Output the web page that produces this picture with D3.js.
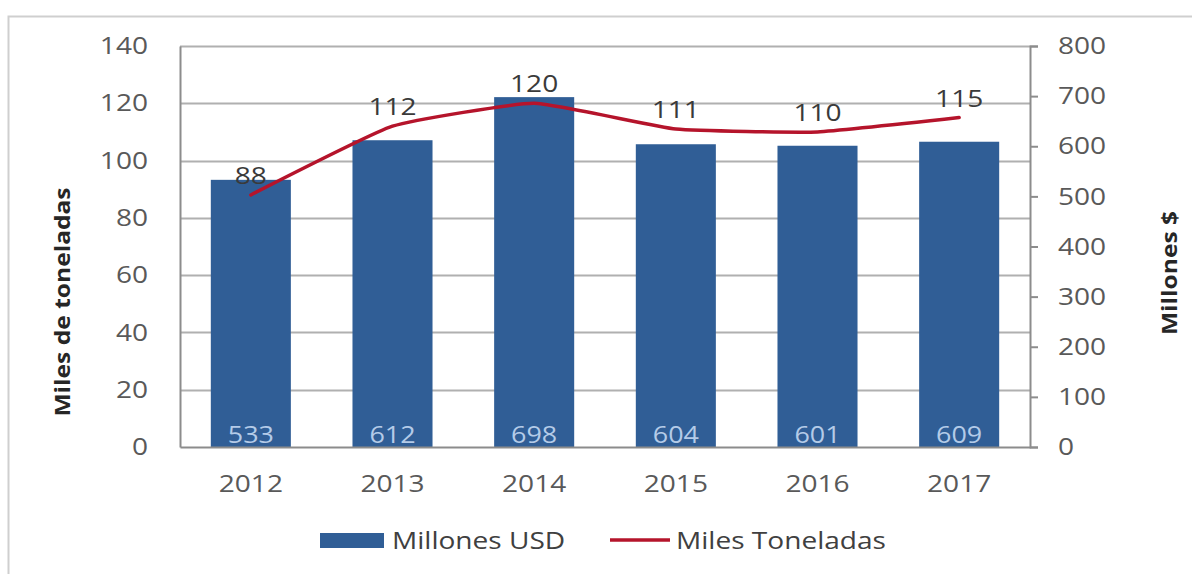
<!DOCTYPE html>
<html>
<head>
<meta charset="utf-8">
<script src="https://cdn.jsdelivr.net/npm/d3@7"></script>
<style>
  html, body { margin: 0; padding: 0; background: #fff; }
  svg { display: block; font-family: "Open Sans", Lato, sans-serif; }
</style>
</head>
<body>
<svg id="chart" width="1192" height="574"></svg>
<script>
const years = ["2012", "2013", "2014", "2015", "2016", "2017"];
const millonesUSD = [533, 612, 698, 604, 601, 609];
const milesToneladas = [88, 112, 120, 111, 110, 115];
const leftTicks = [0, 20, 40, 60, 80, 100, 120, 140];
const rightTicks = [0, 100, 200, 300, 400, 500, 600, 700, 800];
const seriesNames = ["Millones USD", "Miles Toneladas"];
const axisTitles = ["Miles de toneladas", "Millones $"];

const svg = d3.select("#chart");
const plot = { left: 180, right: 1030, top: 46, bottom: 447 };
const barColor = "#305e96";
const lineColor = "#b5142b";
const gridColor = "#b0b0b0";
const axisColor = "#8c8c8c";
const tickText = "#595959";
const K = 1.17; // horizontal stretch of the text

function stretch(sel) {
  sel.each(function() {
    const t = d3.select(this);
    const x = +(t.attr("x") || 0), y = +(t.attr("y") || 0);
    t.attr("transform", `translate(${x},${y}) scale(${K},1) translate(${-x},${-y})`);
  });
}

// frame
svg.append("path").attr("d", "M8.5,574 L8.5,16.5 L1192,16.5")
  .attr("fill", "none").attr("stroke", "#cfcfcf").attr("stroke-width", 2);

const x = d3.scaleBand().domain(years).range([plot.left, plot.right])
  .paddingInner(0.435).paddingOuter(0.2175);
const yL = d3.scaleLinear().domain([0, 140]).range([plot.bottom, plot.top]);
const yR = d3.scaleLinear().domain([0, 800]).range([plot.bottom, plot.top]);

// gridlines
svg.append("g").selectAll("line").data(leftTicks.filter(d => d > 0)).join("line")
  .attr("x1", plot.left).attr("x2", plot.right)
  .attr("y1", d => Math.round(yL(d)) + 0.5).attr("y2", d => Math.round(yL(d)) + 0.5)
  .attr("stroke", gridColor).attr("stroke-width", 2);

// bars
svg.append("g").selectAll("rect").data(years).join("rect")
  .attr("x", d => x(d)).attr("width", x.bandwidth())
  .attr("y", (d, i) => yR(millonesUSD[i]))
  .attr("height", (d, i) => plot.bottom - yR(millonesUSD[i]))
  .attr("fill", barColor);

// bar labels
svg.append("g").selectAll("text").data(years).join("text")
  .attr("x", d => x(d) + x.bandwidth() / 2).attr("y", plot.bottom - 4)
  .attr("text-anchor", "middle").attr("font-size", 23)
  .attr("fill", "#b4cbe8")
  .text((d, i) => millonesUSD[i])
  .call(stretch);

// left axis
const leftAxis = d3.axisLeft(yL).tickValues(leftTicks).tickSize(0).tickPadding(32);
const gL = svg.append("g").attr("transform", `translate(${plot.left},0)`).call(leftAxis);
gL.select(".domain").attr("stroke", axisColor).attr("stroke-width", 2);
gL.selectAll("text").attr("font-size", 24).attr("fill", tickText).attr("font-family", "Open Sans").call(stretch);

// right axis
const rightAxis = d3.axisRight(yR).tickValues(rightTicks).tickSize(8).tickPadding(20);
const gR = svg.append("g").attr("transform", `translate(${plot.right},0)`).call(rightAxis);
gR.select(".domain").attr("stroke", axisColor).attr("stroke-width", 2);
gR.selectAll(".tick line").attr("stroke", axisColor).attr("stroke-width", 2);
gR.selectAll("text").attr("font-size", 24).attr("fill", tickText).attr("font-family", "Open Sans").call(stretch);

// bottom axis
const bottomAxis = d3.axisBottom(x).tickSize(0).tickPadding(28);
const gB = svg.append("g").attr("transform", `translate(0,${plot.bottom})`).call(bottomAxis);
gB.select(".domain").attr("stroke", axisColor).attr("stroke-width", 2);
gB.selectAll("text").attr("font-size", 24).attr("fill", tickText).attr("font-family", "Open Sans").call(stretch);

// line
const line = d3.line()
  .x((d, i) => x(years[i]) + x.bandwidth() / 2)
  .y(d => yL(d))
  .curve(d3.curveCardinal.tension(0.6));
svg.append("path").datum(milesToneladas).attr("d", line)
  .attr("fill", "none").attr("stroke", lineColor).attr("stroke-width", 3.5)
  .attr("stroke-linecap", "round");

// line labels
svg.append("g").selectAll("text").data(milesToneladas).join("text")
  .attr("x", (d, i) => x(years[i]) + x.bandwidth() / 2)
  .attr("y", d => yL(d) - 11)
  .attr("text-anchor", "middle").attr("font-size", 24).attr("fill", "#3a3a3a")
  .text(d => d)
  .call(stretch);

// axis titles
svg.append("text").attr("transform", `translate(70,302) rotate(-90) scale(${K},1)`)
  .attr("text-anchor", "middle").attr("font-size", 21).attr("font-weight", "bold")
  .attr("fill", "#262626").text(axisTitles[0]);
svg.append("text").attr("transform", `translate(1177,273) rotate(-90) scale(${K},1)`)
  .attr("text-anchor", "middle").attr("font-size", 21).attr("font-weight", "bold")
  .attr("fill", "#262626").text(axisTitles[1]);

// legend
const lg = svg.append("g");
lg.append("rect").attr("x", 320).attr("y", 533).attr("width", 64).attr("height", 15).attr("fill", barColor);
lg.append("text").attr("x", 392).attr("y", 549).attr("font-size", 24).attr("fill", "#404040").text(seriesNames[0]).call(stretch);
lg.append("line").attr("x1", 610).attr("x2", 670).attr("y1", 540).attr("y2", 540)
  .attr("stroke", lineColor).attr("stroke-width", 3.5);
lg.append("text").attr("x", 676).attr("y", 549).attr("font-size", 24).attr("fill", "#404040").text(seriesNames[1]).call(stretch);
</script>
</body>
</html>
